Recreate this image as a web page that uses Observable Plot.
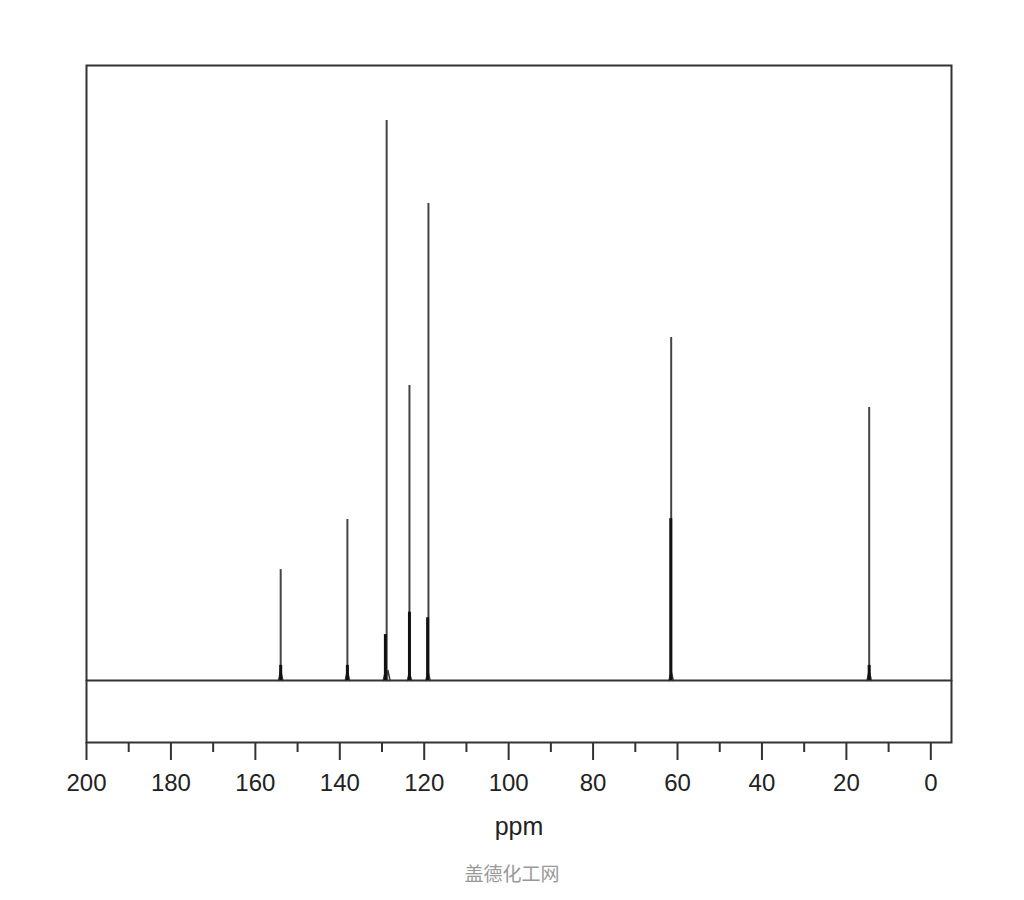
<!DOCTYPE html>
<html>
<head>
<meta charset="utf-8">
<script src="https://cdn.jsdelivr.net/npm/d3@7"></script>
<script src="https://cdn.jsdelivr.net/npm/@observablehq/plot@0.6"></script>
<style>
  html, body { margin: 0; padding: 0; background: #fff; }
</style>
</head>
<body>
<div id="chart"></div>
<script>
// Peak positions (ppm) and heights (relative intensity, tallest = 100)
const tallPpm    = [154.0, 138.2, 128.9, 123.5, 119.0, 61.5, 14.6];
const tallHeight = [19.8,  28.75, 100,   52.7,  85.2,  61.25, 48.75];
// thicker lower portions (overlapping multiplet components)
const thickPpm    = [154.0, 138.2, 129.2, 123.5, 119.2, 61.6, 14.6];
const thickHeight = [2.7,   2.7,   8.2,   12.2,  11.2,  28.9, 2.7];
// small base humps
const humpPpm    = [154.0, 138.2, 129.2, 128.6, 123.5, 119.1, 61.5, 14.6];
const humpHeight = [1.8,   1.8,   1.6,   1.8,   1.4,   1.6,   1.6,  1.8];

const majorTicks = [200, 180, 160, 140, 120, 100, 80, 60, 40, 20, 0];
const minorTicks = [190, 170, 150, 130, 110, 90, 70, 50, 30, 10];
const xLabel = "ppm";
const caption = "盖德化工网";

const tall = tallPpm.map((p, i) => ({ppm: p, h: tallHeight[i]}));
const thick = thickPpm.map((p, i) => ({ppm: p, h: thickHeight[i]}));
const humps = humpPpm.flatMap((p, i) => [
  {ppm: p + 0.5, h: 0, k: i},
  {ppm: p, h: humpHeight[i], k: i},
  {ppm: p - 0.5, h: 0, k: i}
]);
const baseline = [{ppm: 200, h: 0}, {ppm: -4.9, h: 0}];

const ink = "#333";
const chart = Plot.plot({
  width: 1024,
  height: 900,
  marginTop: 65,
  marginBottom: 158,
  marginLeft: 86,
  marginRight: 73,
  style: {fontFamily: "'Liberation Sans', Arial, sans-serif", background: "#fff", color: ink},
  x: {domain: [200, -4.9], axis: null},
  y: {domain: [-11.07, 109.82], axis: null},
  marks: [
    Plot.line(baseline, {x: "ppm", y: "h", stroke: ink, strokeWidth: 2}),
    Plot.line(humps, {x: "ppm", y: "h", z: "k", stroke: ink, strokeWidth: 1.5}),
    Plot.ruleX(tall, {x: "ppm", y1: 0, y2: "h", stroke: "#444", strokeWidth: 2}),
    Plot.ruleX(thick, {x: "ppm", y1: 0, y2: "h", stroke: "#111", strokeWidth: 3}),
    Plot.axisX({ticks: minorTicks, tickSize: 10, tickFormat: () => "", stroke: ink, strokeWidth: 2, anchor: "bottom", label: null}),
    Plot.axisX({ticks: majorTicks, tickSize: 18, tickPadding: 13, fontSize: 24, stroke: ink, strokeWidth: 2, anchor: "bottom", label: null, fill: "#222"}),
    Plot.frame({stroke: ink, strokeWidth: 2}),
    Plot.text([xLabel], {text: d => d, frameAnchor: "bottom", lineAnchor: "middle", dy: 84, fontSize: 25, fill: "#222", fontFamily: "'Liberation Sans Narrow', 'Liberation Sans', sans-serif"}),
    Plot.text([caption], {text: d => d, frameAnchor: "bottom", lineAnchor: "middle", dy: 132, dx: -7, fontSize: 19, fill: "#999", fontFamily: "'Noto Sans CJK SC', sans-serif"})
  ]
});
document.getElementById("chart").appendChild(chart);
</script>
</body>
</html>
